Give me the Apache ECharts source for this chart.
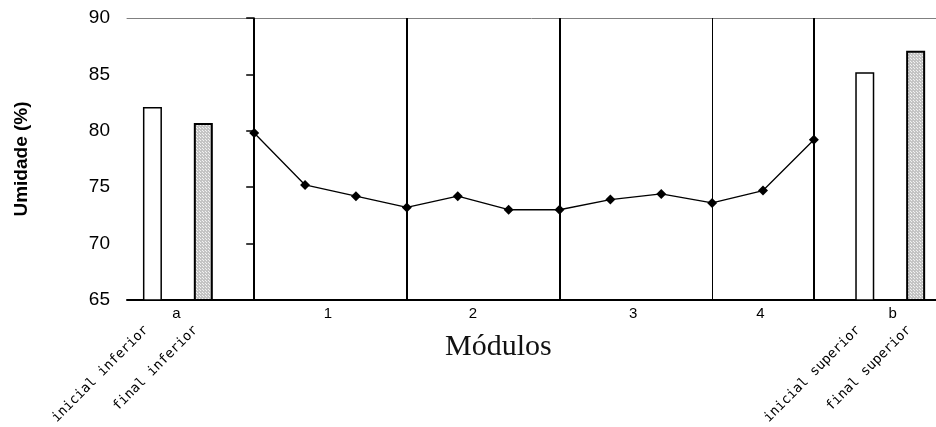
<!DOCTYPE html>
<html>
<head>
<meta charset="utf-8">
<script src="https://cdn.jsdelivr.net/npm/echarts@6/dist/echarts.min.js"></script>
<style>
  html, body { margin: 0; padding: 0; background: #fff; }
  #chart { width: 936px; height: 427px; }
</style>
</head>
<body>
<div id="chart"></div>
<script>
// Humidity profile along the dryer modules, with inlet/outlet bars on each side.

// Section labels under the axis and where they sit along it
const sectionLabels = ['a', '1', '2', '3', '4', 'b'];
const sectionLabelAt = [-1.53, 1.45, 4.3, 7.45, 9.95, 12.55];

// Bar names (rotated labels) and their positions
const barNames = ['inicial inferior', 'final inferior', 'inicial superior', 'final superior'];
const barNameAt = [-2.12, -1.15, 11.87, 12.87];

// Bar values: initial and final humidity at the lower (a) and upper (b) ends
const inicialPos = [-2, 12];
const inicialValues = [82.1, 85.2];
const finalPos = [-1, 13];
const finalValues = [80.7, 87.1];

// Humidity measured along the modules
const profilePos = [0, 1, 2, 3, 4, 5, 6, 7, 8, 9, 10, 11];
const profileValues = [79.8, 75.2, 74.2, 73.2, 74.2, 73.0, 73.0, 73.9, 74.4, 73.6, 74.7, 79.2];

// Module boundaries
const moduleBounds = [0, 3, 6, 9, 11];

// Y axis range
const yMin = 65, yMax = 90, yStep = 5;

// light grey screen used for the "final" bars
function screenPattern() {
  const c = document.createElement('canvas');
  c.width = 3; c.height = 3;
  const g = c.getContext('2d');
  g.fillStyle = '#c4c4c4'; g.fillRect(0, 0, 3, 3);
  g.fillStyle = '#f2f2f2'; g.fillRect(1, 1, 1, 1); g.fillRect(2, 2, 1, 1);
  return c;
}

const pick = (arr, at) => v => {
  const i = at.findIndex(p => Math.abs(p - v) < 1e-6);
  return i < 0 ? '' : arr[i];
};

const chart = echarts.init(document.getElementById('chart'), null, { renderer: 'canvas' });
const xRange = { min: -2.5, max: 13.4 };

chart.setOption({
  animation: false,
  backgroundColor: '#ffffff',
  grid: { left: 127, right: 0, top: 18, bottom: 127, containLabel: false },
  xAxis: [
    {
      type: 'value', ...xRange, position: 'bottom',
      axisLine: { show: true, lineStyle: { color: '#000', width: 2 } },
      axisTick: { show: false },
      splitLine: { show: false },
      axisLabel: {
        customValues: sectionLabelAt,
        formatter: pick(sectionLabels, sectionLabelAt),
        margin: 6, color: '#000', fontSize: 15, fontFamily: 'Liberation Sans'
      }
    },
    {
      type: 'value', ...xRange, position: 'bottom',
      axisLine: { show: false }, axisTick: { show: false }, splitLine: { show: false },
      axisLabel: {
        customValues: barNameAt,
        formatter: pick(barNames, barNameAt),
        rotate: 45, margin: 28, color: '#000',
        fontSize: 13.5, fontFamily: 'DejaVu Sans Mono'
      }
    },
    {
      type: 'value', ...xRange, position: 'top',
      axisLine: { show: true, lineStyle: { color: '#808080', width: 1 } },
      axisTick: { show: false }, axisLabel: { show: false }, splitLine: { show: false }
    }
  ],
  yAxis: {
    type: 'value', min: yMin, max: yMax, interval: yStep,
    name: 'Umidade (%)', nameLocation: 'middle', nameGap: 96,
    nameTextStyle: { color: '#000', fontSize: 19, fontWeight: 'bold', fontFamily: 'Liberation Sans' },
    axisLine: { show: true, lineStyle: { color: '#000', width: 1 } },
    axisTick: { show: true, length: 8, lineStyle: { color: '#000', width: 1.5 } },
    splitLine: { show: false },
    axisLabel: { margin: 17, color: '#000', fontSize: 19, fontFamily: 'Liberation Sans' }
  },
  series: [
    {
      name: 'inicial', type: 'bar', barWidth: 19, barGap: '-100%',
      data: inicialPos.map((p, i) => [p, inicialValues[i]]),
      itemStyle: { color: '#fff', borderColor: '#000', borderWidth: 1.5 }
    },
    {
      name: 'final', type: 'bar', barWidth: 19, barGap: '-100%',
      data: finalPos.map((p, i) => [p, finalValues[i]]),
      itemStyle: { color: { image: screenPattern(), repeat: 'repeat' }, borderColor: '#000', borderWidth: 2 }
    },
    {
      name: 'perfil', type: 'line',
      data: profilePos.map((p, i) => [p, profileValues[i]]),
      symbol: 'diamond', symbolSize: 10,
      lineStyle: { color: '#000', width: 1.3 },
      itemStyle: { color: '#000' },
      z: 5,
      markLine: {
        silent: true, symbol: ['none', 'none'], label: { show: false },
        lineStyle: { color: '#000', type: 'solid', width: 2 },
        data: moduleBounds.map(v => ({ xAxis: v, lineStyle: { width: v === 9 ? 1 : 2 } }))
      }
    }
  ],
  graphic: [
    {
      type: 'text', left: 445, top: 332,
      style: { text: 'Módulos', fill: '#111', font: '30px "Liberation Serif"' }
    }
  ]
});
</script>
</body>
</html>
